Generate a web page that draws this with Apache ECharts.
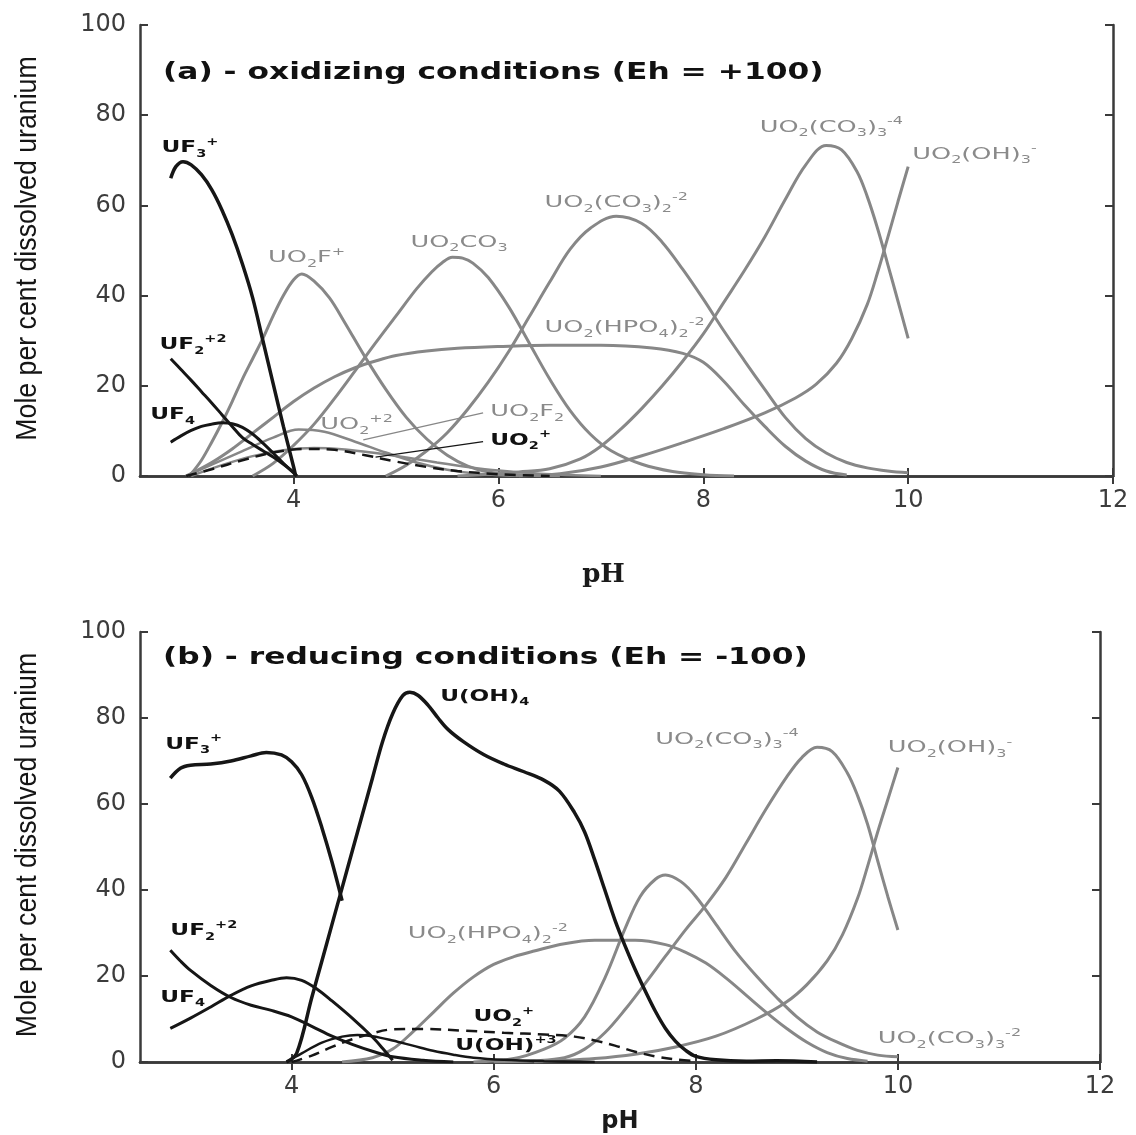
<!DOCTYPE html>
<html>
<head>
<meta charset="utf-8">
<script src="https://cdn.jsdelivr.net/npm/echarts@6/dist/echarts.min.js"></script>
<style>
html,body{margin:0;padding:0;background:#ffffff;}
#chart{width:1136px;height:1135px;}
</style>
</head>
<body>
<div id="chart"></div>
<script>
// ---------- tick labels ----------
const xTickValues = [4, 6, 8, 10, 12];
const yTickValues = [0, 20, 40, 60, 80, 100];

// ---------- titles ----------
const titleA = '(a) - oxidizing conditions (Eh = +100)';
const titleB = '(b) - reducing conditions (Eh = -100)';
const yName = 'Mole per cent dissolved uranium';
const xName = 'pH';

// ---------- panel (a): oxidizing, [pH, mole %] ----------
const a_UF3 = [[2.8,66],[2.85,68.6],[2.92,69.7],[3.0,69],[3.1,66.8],[3.2,63.5],[3.3,59],[3.4,53.5],[3.5,47],[3.6,39.5],[3.7,30],[3.8,20.5],[3.9,11],[4.0,2],[4.02,0]];
const a_UF2 = [[2.8,26],[2.9,23.6],[3.0,21.2],[3.1,18.7],[3.2,16.2],[3.3,13.6],[3.4,11],[3.5,8.5],[3.6,7],[3.7,5.6],[3.8,4.2],[3.9,2.6],[4.0,0.8],[4.03,0]];
const a_UF4 = [[2.8,7.5],[2.9,8.9],[3.0,10.1],[3.1,11],[3.2,11.5],[3.3,11.8],[3.4,11.6],[3.5,10.8],[3.6,9.3],[3.7,7.3],[3.8,5.1],[3.9,2.8],[4.0,0.7],[4.03,0]];
const a_UO2F = [[3.0,0.5],[3.1,3.5],[3.2,7.5],[3.3,11.8],[3.4,16.5],[3.5,21.5],[3.6,26],[3.7,30.5],[3.8,35.5],[3.9,40],[4.0,43.5],[4.08,44.8],[4.2,43.2],[4.35,39.5],[4.5,34],[4.7,26.3],[4.9,19.2],[5.1,13],[5.3,8.2],[5.5,4.6],[5.7,2.2],[5.9,0.9],[6.2,0.2],[6.6,0]];
const a_UO2CO3 = [[3.6,0],[3.8,2.8],[4.0,6.8],[4.2,11.5],[4.4,17.2],[4.6,23.3],[4.8,29.5],[5.0,35.5],[5.2,41.5],[5.35,45.3],[5.45,47.3],[5.55,48.5],[5.65,48.3],[5.75,47.2],[5.9,44],[6.1,37.5],[6.3,29.5],[6.5,21.5],[6.7,14.5],[6.9,9.2],[7.1,5.6],[7.4,2.6],[7.7,1],[8.0,0.3],[8.3,0]];
const a_CO3x2 = [[4.9,0],[5.1,2.4],[5.3,5.6],[5.5,9.6],[5.7,14.8],[5.9,20.8],[6.1,27.6],[6.3,35.3],[6.5,43],[6.7,50.3],[6.9,55],[7.15,57.6],[7.4,56],[7.6,51.8],[7.8,45.8],[8.0,39.2],[8.2,32.2],[8.4,25.6],[8.6,19.2],[8.8,13],[9.0,8.3],[9.2,5.1],[9.4,3],[9.6,1.8],[9.8,1.1],[10.0,0.7]];
const a_HPO4 = [[2.95,0],[3.2,3],[3.4,6],[3.6,9.5],[3.8,13],[4.0,16.5],[4.2,19.5],[4.4,22],[4.6,24],[4.8,25.5],[5.0,26.7],[5.3,27.7],[5.6,28.3],[6.0,28.7],[6.5,29],[7.0,29],[7.5,28.4],[7.8,27.2],[8.0,25.2],[8.2,21],[8.4,15.8],[8.6,11],[8.8,6.6],[9.0,3.3],[9.2,1.1],[9.4,0.2]];
const a_CO3x3 = [[5.6,0],[5.9,0.4],[6.2,0.9],[6.5,1.6],[6.8,3.8],[7.0,6.6],[7.2,10.5],[7.4,15],[7.6,20],[7.8,25.5],[8.0,31.5],[8.2,38.5],[8.4,45.5],[8.6,53],[8.8,61.3],[9.0,69],[9.2,73.3],[9.35,72.3],[9.5,67.5],[9.6,62],[9.7,55],[9.8,47],[9.9,38.8],[10.0,30.5]];
const a_OH3 = [[6.2,0],[6.6,0.5],[7.0,2],[7.4,4.5],[7.8,7.4],[8.2,10.5],[8.6,14],[8.9,17.3],[9.1,20.3],[9.3,25],[9.45,30.5],[9.6,38],[9.7,45],[9.8,52.8],[9.9,60.8],[10.0,68.6]];
const a_UO2p2 = [[2.95,0],[3.2,2.5],[3.5,5.5],[3.8,8.5],[4.05,10.3],[4.3,9.8],[4.6,7.6],[4.9,5.2],[5.2,3],[5.5,1.4],[5.8,0.5],[6.2,0]];
const a_UO2F2 = [[3.0,0],[3.3,2.4],[3.6,4.4],[3.9,5.7],[4.2,6.2],[4.5,5.9],[4.8,5.1],[5.1,4.1],[5.4,3],[5.7,2],[6.0,1.2],[6.4,0.5],[7.0,0]];
const a_UO2p = [[2.95,0],[3.2,1.5],[3.5,3.5],[3.8,5.2],[4.1,6],[4.4,5.8],[4.7,4.6],[5.0,3.2],[5.3,2],[5.6,1.1],[6.0,0.4],[6.5,0]];
const a_leadF2 = [[4.68,8],[5.85,14]];
const a_leadUO2p = [[4.8,4.2],[5.85,7.6]];

// ---------- panel (b): reducing, [pH, mole %] ----------
const b_UF3 = [[2.8,66],[2.9,68.3],[3.0,69],[3.2,69.3],[3.4,70],[3.6,71.2],[3.75,72],[3.9,71.4],[4.0,69.8],[4.1,66.8],[4.2,61.5],[4.3,54.5],[4.4,46.5],[4.5,37.5]];
const b_UOH4 = [[3.95,0],[4.05,2],[4.2,15],[4.3,23.5],[4.4,32],[4.5,40.5],[4.6,49],[4.7,57.5],[4.8,66],[4.9,74.5],[5.0,81],[5.1,85.2],[5.17,86],[5.25,85.3],[5.35,83],[5.45,80],[5.55,77.3],[5.7,74.5],[5.9,71.5],[6.1,69.3],[6.3,67.5],[6.5,65.5],[6.65,63],[6.8,58],[6.9,53.5],[7.0,47],[7.1,40],[7.2,33],[7.3,27],[7.4,21.5],[7.5,16.5],[7.6,11.8],[7.7,7.8],[7.8,4.8],[7.9,2.7],[8.0,1.3],[8.2,0.5],[8.5,0.2],[8.8,0.3],[9.2,0]];
const b_UF2 = [[2.8,26],[2.9,23.5],[3.0,21.3],[3.2,17.8],[3.4,15],[3.6,13.2],[3.8,12],[4.0,10.5],[4.2,8.3],[4.4,6],[4.6,4.1],[4.8,2.5],[5.0,1.2],[5.3,0.4],[5.6,0]];
const b_UF4 = [[2.8,7.8],[3.0,10.2],[3.2,12.8],[3.4,15.5],[3.6,17.7],[3.8,19],[3.95,19.6],[4.1,19],[4.25,17],[4.4,14.2],[4.6,10.2],[4.8,5.8],[4.9,3.2],[5.0,0.4]];
const b_UO2p = [[4.0,0],[4.2,1.5],[4.4,3.5],[4.6,5.3],[4.8,6.7],[5.0,7.6],[5.3,7.7],[5.7,7.3],[6.1,6.8],[6.5,6.4],[6.8,5.9],[7.0,5],[7.2,3.8],[7.4,2.4],[7.6,1.3],[7.8,0.6],[8.0,0.2]];
const b_UOH3 = [[3.95,0],[4.1,2],[4.3,4.5],[4.5,5.9],[4.65,6.3],[4.8,6],[5.0,5],[5.2,3.8],[5.4,2.6],[5.6,1.7],[5.8,1],[6.1,0.5],[6.5,0.2],[7.0,0]];
const b_HPO4 = [[4.5,0],[4.8,1],[5.0,3],[5.2,7],[5.4,11.5],[5.6,16],[5.8,19.8],[6.0,22.7],[6.2,24.5],[6.4,25.8],[6.7,27.5],[7.0,28.3],[7.4,28.3],[7.7,27.3],[7.9,25.5],[8.1,23],[8.3,19.5],[8.5,15.5],[8.7,11.5],[8.9,7.8],[9.1,4.6],[9.3,2.2],[9.5,0.8],[9.7,0.2]];
const b_CO3x2 = [[5.8,0],[6.2,0.8],[6.5,3],[6.7,5.5],[6.9,10.5],[7.1,19.5],[7.3,31],[7.45,38.5],[7.6,42.5],[7.7,43.5],[7.85,42],[8.0,38.5],[8.2,32],[8.4,25.5],[8.6,20],[8.8,15],[9.0,10.5],[9.2,7],[9.4,4.6],[9.6,2.7],[9.8,1.6],[10.0,1.2]];
const b_CO3x3 = [[6.0,0],[6.4,0.3],[6.7,1],[6.9,3],[7.1,6.8],[7.3,12.2],[7.5,18.3],[7.7,24.6],[7.9,30.8],[8.1,36.5],[8.3,43],[8.5,51],[8.7,59],[8.9,66.3],[9.05,70.8],[9.2,73.2],[9.35,72.2],[9.5,67.2],[9.6,62],[9.7,55.3],[9.8,46.8],[9.9,38.5],[10.0,30.7]];
const b_OH3 = [[6.4,0],[7.0,0.8],[7.4,1.8],[7.8,3.5],[8.2,6],[8.6,10],[8.9,14],[9.1,18],[9.3,23.5],[9.45,29.5],[9.6,38],[9.7,45.5],[9.8,53.5],[9.9,61],[10.0,68.5]];

// ---------- species labels: anchor [pH, %], text, kind (k = black, g = grey) ----------
const a_labels = [
  [2.71, 72.7, '{n|UF}{s|3}{p|+}', 'k'],
  [2.69, 29.0, '{n|UF}{s|2}{p|+2}', 'k'],
  [2.60, 13.5, '{n|UF}{s|4}', 'k'],
  [3.75, 48.3, '{n|UO}{s|2}{n|F}{p|+}', 'g'],
  [5.14, 51.7, '{n|UO}{s|2}{n|CO}{s|3}', 'g'],
  [6.45, 60.5, '{n|UO}{s|2}{n|(CO}{s|3}{n|)}{s|2}{p|-2}', 'g'],
  [6.45, 32.8, '{n|UO}{s|2}{n|(HPO}{s|4}{n|)}{s|2}{p|-2}', 'g'],
  [8.55, 77.2, '{n|UO}{s|2}{n|(CO}{s|3}{n|)}{s|3}{p|-4}', 'g'],
  [10.04, 71.2, '{n|UO}{s|2}{n|(OH)}{s|3}{p|-}', 'g'],
  [4.26, 11.3, '{n|UO}{s|2}{p|+2}', 'g'],
  [5.92, 14.2, '{n|UO}{s|2}{n|F}{s|2}', 'g'],
  [5.92, 7.8, '{n|UO}{s|2}{p|+}', 'k']
];
const b_labels = [
  [2.75, 73.8, '{n|UF}{s|3}{p|+}', 'k'],
  [5.47, 85.0, '{n|U(OH)}{s|4}', 'k'],
  [2.80, 30.4, '{n|UF}{s|2}{p|+2}', 'k'],
  [2.70, 15.0, '{n|UF}{s|4}', 'k'],
  [5.15, 29.7, '{n|UO}{s|2}{n|(HPO}{s|4}{n|)}{s|2}{p|-2}', 'g'],
  [7.60, 75.0, '{n|UO}{s|2}{n|(CO}{s|3}{n|)}{s|3}{p|-4}', 'g'],
  [9.90, 73.0, '{n|UO}{s|2}{n|(OH)}{s|3}{p|-}', 'g'],
  [9.80, 5.3, '{n|UO}{s|2}{n|(CO}{s|3}{n|)}{s|3}{p|-2}', 'g'],
  [5.80, 10.4, '{n|UO}{s|2}{p|+}', 'k'],
  [5.62, 3.7, '{n|U(OH)}{p|+3}', 'k']
];

// ---------- styling ----------
const BLACK = '#161616';
const GREY = '#878787';
const GREY_TXT = '#8a8a8a';
const AXIS = '#3a3a3a';
const SANS = 'DejaVu Sans, Liberation Sans, sans-serif';

function richSet(color, weight, size) {
  const sub = Math.round(size * 0.6);
  return {
    n: {fill: color, color, fontWeight: weight, fontSize: size, fontFamily: SANS, lineHeight: 22, verticalAlign: 'middle'},
    s: {fill: color, color, fontWeight: weight, fontSize: sub, fontFamily: SANS, lineHeight: 22, verticalAlign: 'bottom'},
    p: {fill: color, color, fontWeight: weight, fontSize: sub, fontFamily: SANS, lineHeight: 22, verticalAlign: 'top'}
  };
}
const richK = richSet('#111111', 'bold', 16);
const richG = richSet(GREY_TXT, 'normal', 16);

const grids = [
  {left: 140, right: 23, top: 25, height: 451},
  {left: 140, right: 36, top: 632, height: 431}
];

function xAxes(gi, bottomNameGap, nameStyle, namePad) {
  return [
    {
      type: 'value', gridIndex: gi, position: 'bottom', min: 2.5, max: 12,
      name: xName, nameLocation: 'middle', nameGap: bottomNameGap,
      nameTextStyle: Object.assign({color: '#1a1a1a', padding: namePad}, nameStyle),
      axisLine: {show: true, lineStyle: {color: AXIS, width: 2.5}},
      axisTick: {show: true, inside: true, length: 8, customValues: xTickValues, lineStyle: {color: AXIS, width: 2}},
      axisLabel: {show: true, customValues: xTickValues, margin: 13, color: '#3c3c3c', fontSize: 24, fontFamily: SANS},
      splitLine: {show: false}
    },
    {
      type: 'value', gridIndex: gi, position: 'top', min: 2.5, max: 12,
      axisLine: {show: true, lineStyle: {color: AXIS, width: 2.5}},
      axisTick: {show: true, inside: true, length: 8, customValues: xTickValues, lineStyle: {color: AXIS, width: 2}},
      axisLabel: {show: false},
      splitLine: {show: false}
    }
  ];
}
function yAxes(gi) {
  return [
    {
      type: 'value', gridIndex: gi, position: 'left', min: 0, max: 100, interval: 20,
      axisLine: {show: true, lineStyle: {color: AXIS, width: 2.5}},
      axisTick: {show: true, inside: true, length: 8, lineStyle: {color: AXIS, width: 2}},
      axisLabel: {show: true, margin: 14, color: '#3c3c3c', fontSize: 24, fontFamily: SANS},
      splitLine: {show: false}
    },
    {
      type: 'value', gridIndex: gi, position: 'right', min: 0, max: 100, interval: 20,
      axisLine: {show: true, lineStyle: {color: AXIS, width: 2.5}},
      axisTick: {show: true, inside: true, length: 8, lineStyle: {color: AXIS, width: 2}},
      axisLabel: {show: false},
      splitLine: {show: false}
    }
  ];
}

function curve(name, data, panel, color, width, dashed) {
  return {
    type: 'line', name, data,
    xAxisIndex: panel * 2, yAxisIndex: panel * 2,
    smooth: 0.35, symbol: 'none', silent: true,
    lineStyle: {color, width, type: dashed ? [11, 7] : 'solid'},
    z: color === BLACK ? 4 : 3
  };
}
function leader(data, panel, color) {
  return {
    type: 'line', data, xAxisIndex: panel * 2, yAxisIndex: panel * 2,
    symbol: 'none', silent: true, lineStyle: {color, width: 1.3}, z: 3
  };
}

const series = [
  // panel a - grey U(VI) species
  curve('UO2F+', a_UO2F, 0, GREY, 3),
  curve('UO2CO3', a_UO2CO3, 0, GREY, 3),
  curve('UO2(CO3)2-2', a_CO3x2, 0, GREY, 3),
  curve('UO2(HPO4)2-2', a_HPO4, 0, GREY, 3),
  curve('UO2(CO3)3-4', a_CO3x3, 0, GREY, 3),
  curve('UO2(OH)3-', a_OH3, 0, GREY, 3),
  curve('UO2+2', a_UO2p2, 0, GREY, 2.5),
  curve('UO2F2', a_UO2F2, 0, GREY, 2.5),
  // panel a - black species
  curve('UF3+', a_UF3, 0, BLACK, 3.5),
  curve('UF2+2', a_UF2, 0, BLACK, 3),
  curve('UF4', a_UF4, 0, BLACK, 3),
  curve('UO2+', a_UO2p, 0, BLACK, 2.5, true),
  leader(a_leadF2, 0, GREY),
  leader(a_leadUO2p, 0, BLACK),
  // panel b - grey
  curve('UO2(HPO4)2-2', b_HPO4, 1, GREY, 3),
  curve('UO2(CO3)2-2', b_CO3x2, 1, GREY, 3),
  curve('UO2(CO3)3-4', b_CO3x3, 1, GREY, 3),
  curve('UO2(OH)3-', b_OH3, 1, GREY, 3),
  // panel b - black
  curve('UF3+', b_UF3, 1, BLACK, 3.5),
  curve('U(OH)4', b_UOH4, 1, BLACK, 3.5),
  curve('UF2+2', b_UF2, 1, BLACK, 3),
  curve('UF4', b_UF4, 1, BLACK, 3),
  curve('U(OH)+3', b_UOH3, 1, BLACK, 2.5),
  curve('UO2+', b_UO2p, 1, BLACK, 2.5, true)
];

const chart = echarts.init(document.getElementById('chart'), null, {renderer: 'canvas'});
chart.setOption({
  animation: false,
  backgroundColor: '#ffffff',
  grid: grids,
  xAxis: [].concat(
    xAxes(0, 86, {fontSize: 26, fontWeight: 'bold', fontFamily: 'DejaVu Serif, Liberation Serif, serif'}, [0, 46, 0, 0]),
    xAxes(1, 48, {fontSize: 24, fontWeight: 'bold', fontFamily: SANS}, [0, 0, 0, 0])
  ),
  yAxis: [].concat(yAxes(0), yAxes(1)),
  series
});

// ---------- text overlays (wide lettering of the original) ----------
const graphics = [];
function panelTitle(text, panel) {
  const p = chart.convertToPixel({xAxisIndex: panel * 2, yAxisIndex: panel * 2}, [2.5, 100]);
  graphics.push({
    type: 'text', x: p[0] + 23, y: p[1] + (panel === 0 ? 48 : 26), scaleX: 1.36, z: 20,
    style: {text, fill: '#111', font: 'bold 23px DejaVu Sans', align: 'left', verticalAlign: 'middle'}
  });
}
function axisTitle(panel) {
  const top = chart.convertToPixel({yAxisIndex: panel * 2}, 100);
  const bot = chart.convertToPixel({yAxisIndex: panel * 2}, 0);
  graphics.push({
    type: 'text', x: 28, y: (top + bot) / 2 - 2, rotation: Math.PI / 2, scaleX: 0.89, z: 20,
    style: {text: yName, fill: '#151515', font: '30px Liberation Sans', align: 'center', verticalAlign: 'middle'}
  });
}
function speciesLabels(list, panel) {
  list.forEach(l => {
    const p = chart.convertToPixel({xAxisIndex: panel * 2, yAxisIndex: panel * 2}, [l[0], l[1]]);
    const black = l[3] === 'k';
    graphics.push({
      type: 'text', x: p[0], y: p[1], scaleX: black ? 1.45 : 1.6, z: 20, silent: true,
      style: {text: l[2], rich: black ? richK : richG, fill: black ? '#111' : GREY_TXT,
              font: (black ? 'bold ' : '') + '16px DejaVu Sans', align: 'left', verticalAlign: 'middle'}
    });
  });
}
panelTitle(titleA, 0);
panelTitle(titleB, 1);
axisTitle(0);
axisTitle(1);
speciesLabels(a_labels, 0);
speciesLabels(b_labels, 1);
chart.setOption({graphic: graphics});
</script>
</body>
</html>
